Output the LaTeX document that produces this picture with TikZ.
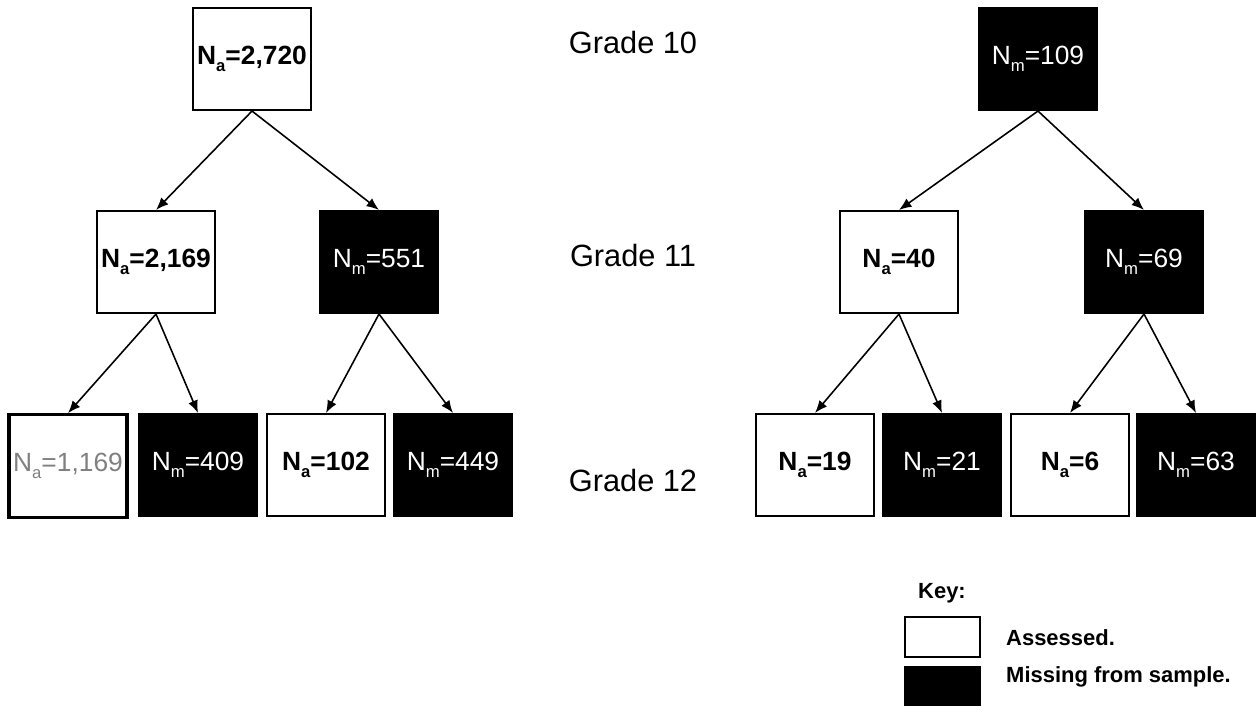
\documentclass[tikz,border=0pt]{standalone}
\usepackage{fontspec}
\setmainfont{Liberation Sans}
\usetikzlibrary{arrows.meta}
\newcommand{\nsub}[1]{\raisebox{-0.5ex}{\fontsize{9.5}{10}\selectfont #1}}

\begin{document}
\begin{tikzpicture}[
  x=0.02cm, y=-0.02cm,
  abox/.style={draw, line width=0.9pt, fill=white, minimum width=2.36cm, minimum height=2.05cm, inner sep=1pt, font=\fontsize{15}{18}\selectfont\bfseries},
  mbox/.style={abox, fill=black, text=white, font=\fontsize{15}{18}\selectfont},
  grade/.style={font=\fontsize{17.5}{20}\selectfont},
  keybox/.style={draw, line width=0.9pt, minimum width=1.5cm, minimum height=0.8cm},
  keytext/.style={font=\fontsize{12.5}{15}\selectfont\bfseries},
  arr/.style={-{Latex[length=2.5mm, width=2mm]}, line width=0.9pt}
]
  \useasboundingbox (0,0) rectangle (1258,706);

  % Left tree
  \node[abox] (L10) at (252, 59) {N\nsub{a}=2,720};
  \node[abox] (L11a) at (156, 262) {N\nsub{a}=2,169};
  \node[mbox] (L11m) at (379, 262) {N\nsub{m}=551};
  \node[abox, line width=1.8pt, text=gray, font=\fontsize{15}{18}\selectfont] (L12aa) at (68, 466) {N\nsub{a}=1,169};
  \node[mbox] (L12am) at (198, 465) {N\nsub{m}=409};
  \node[abox] (L12ma) at (326, 465) {N\nsub{a}=102};
  \node[mbox] (L12mm) at (453, 465) {N\nsub{m}=449};
  \draw[arr] (L10.south) -- (L11a.north);
  \draw[arr] (L10.south) -- (L11m.north);
  \draw[arr] (L11a.south) -- (L12aa.north);
  \draw[arr] (L11a.south) -- (L12am.north);
  \draw[arr] (L11m.south) -- (L12ma.north);
  \draw[arr] (L11m.south) -- (L12mm.north);

  % Grades
  \node[grade] (gr10) at (633, 43) {Grade 10};
  \node[grade] (gr11) at (633, 256) {Grade 11};
  \node[grade] (gr12) at (633, 481) {Grade 12};

  % Right tree
  \node[mbox] (R10) at (1038, 59) {N\nsub{m}=109};
  \node[abox] (R11a) at (899, 262) {N\nsub{a}=40};
  \node[mbox] (R11m) at (1144, 262) {N\nsub{m}=69};
  \node[abox] (R12aa) at (815, 465) {N\nsub{a}=19};
  \node[mbox] (R12am) at (942, 465) {N\nsub{m}=21};
  \node[abox] (R12ma) at (1070, 465) {N\nsub{a}=6};
  \node[mbox] (R12mm) at (1196, 465) {N\nsub{m}=63};
  \draw[arr] (R10.south) -- (R11a.north);
  \draw[arr] (R10.south) -- (R11m.north);
  \draw[arr] (R11a.south) -- (R12aa.north);
  \draw[arr] (R11a.south) -- (R12am.north);
  \draw[arr] (R11m.south) -- (R12ma.north);
  \draw[arr] (R11m.south) -- (R12mm.north);

  % Key
  \node[keytext] (key) at (942, 593) {Key:};
  \node[keybox, fill=white] (ka) at (942.5, 637) {};
  \node[keybox, fill=black] (km) at (942.5, 686.5) {};
  \node[keytext, anchor=west] (kat) at (1000, 638) {Assessed.};
  \node[keytext, anchor=base west] (kmt) at (1000, 682) {Missing from sample.};
\end{tikzpicture}
\end{document}
